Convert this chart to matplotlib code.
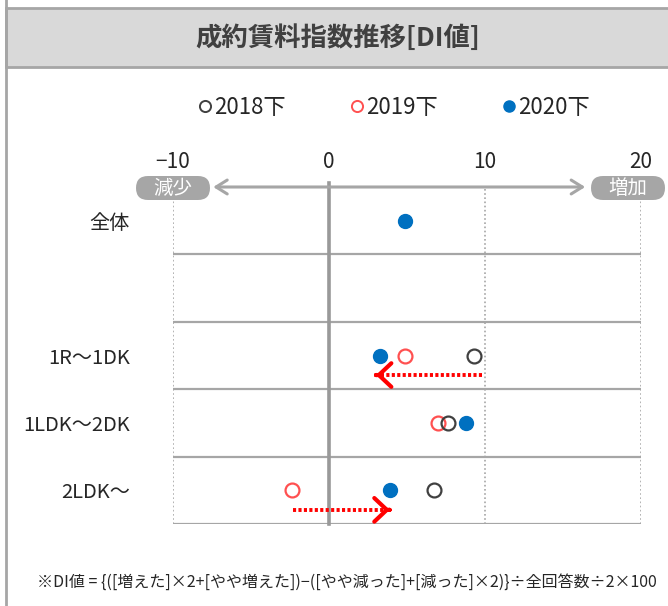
import matplotlib.pyplot as plt
import numpy as np
from matplotlib.patches import FancyBboxPatch, Rectangle
from matplotlib.lines import Line2D

plt.rcParams['font.family'] = ['Noto Sans CJK JP', 'DejaVu Sans']

categories = ['全体', '', '1R～1DK', '1LDK～2DK', '2LDK～']
di_2018 = [np.nan, np.nan, 9.3, 7.6, 6.7]
di_2019 = [np.nan, np.nan, 4.9, 7.0, -2.4]
di_2020 = [4.9, np.nan, 3.3, 8.8, 3.9]
series_labels = ['2018下', '2019下', '2020下']
x_ticks = [-10, 0, 10, 20]
# 前回からの変化を示す矢印: (行, 始点, 終点)
shifts = [('1R～1DK', 9.8, 3.0), ('2LDK～', -2.3, 3.9)]

note = '※DI値 = {([増えた]×2+[やや増えた])−([やや減った]+[減った]×2)}÷全回答数÷2×100'

W, H = 668, 606
GRAY = '#a6a6a6'

fig = plt.figure(figsize=(W / 100, H / 100), dpi=100)


def fx(x):
    return x / W


def fy(y):
    return 1 - y / H


# 見出し帯と左の枠線
fig.add_artist(Rectangle((fx(6), fy(67)), 1.0, (67 - 8) / H, transform=fig.transFigure,
                         fc='#d9d9d9', ec=GRAY, lw=2))
fig.add_artist(Line2D([fx(6), fx(6)], [0, 1], transform=fig.transFigure, color=GRAY, lw=2))
fig.text(fx(338), fy(38), '成約賃料指数推移[DI値]', ha='center', va='center',
         fontsize=19, fontweight='bold', color='#404040')

ax = fig.add_axes([fx(173), fy(524), (641 - 173) / W, (524 - 187) / H])
rows = np.arange(len(categories)) + 0.5
ax.set_xlim(-10, 20)
ax.set_ylim(len(categories), 0)
for s in ax.spines.values():
    s.set_visible(False)

ax.xaxis.tick_top()
ax.set_xticks(x_ticks)
ax.set_xticklabels([str(t).replace('-', '−') for t in x_ticks], fontsize=15, color='#262626')
ax.tick_params(axis='x', length=0, pad=10)
ax.set_yticks(rows)
ax.set_yticklabels(categories, fontsize=14.5, color='#262626')
ax.tick_params(axis='y', length=0, pad=31)

# 罫線
for y in range(1, len(categories) + 1):
    ax.axhline(y, color=GRAY, lw=1.6, zorder=1)
for t in x_ticks:
    if t != 0:
        ax.axvline(t, color=GRAY, lw=1.2, ls=(0, (1, 1.5)), zorder=1)
ax.plot([0, 0], [-0.06, len(categories)], color='#999999', lw=2.6, clip_on=False, zorder=2)

# 減少 ↔ 増加
ax.annotate('', xy=(-7.6, 0), xytext=(16.6, 0), xycoords='data',
            arrowprops=dict(arrowstyle='<->,head_length=0.8,head_width=0.5', color=GRAY, lw=2.2),
            annotation_clip=False, zorder=3)
for label, cx in [('減少', 173), ('増加', 628)]:
    fig.add_artist(FancyBboxPatch(((cx - 37) / 100, (H - 200) / 100), 0.74, 0.24,
                                  boxstyle='round,pad=0,rounding_size=0.12',
                                  transform=fig.dpi_scale_trans, fc=GRAY, ec='none', zorder=5))
    fig.text(fx(cx), fy(188), label, ha='center', va='center', fontsize=14,
             color='white', zorder=6)

# データ点
m = 10
ax.plot(di_2019, rows, 'o', ms=m, mfc='white', mec='#ff5050', mew=1.6, zorder=4)
ax.plot(di_2018, rows, 'o', ms=m, mfc='none', mec='#404040', mew=1.6, zorder=4)
ax.plot(di_2020, rows, 'o', ms=m, mfc='#0070c0', mec='#0070c0', zorder=4)

# 変化の矢印
for cat, x0, x1 in shifts:
    y = rows[categories.index(cat)] + 0.29
    ax.plot([x0, x1], [y, y], color='red', lw=2.8, ls=(0, (0.8, 0.6)), zorder=3)
    d = 0.2 if x1 > x0 else -0.2
    ax.annotate('', xy=(x1, y), xytext=(x1 - d, y),
                arrowprops=dict(arrowstyle='->,head_length=0.9,head_width=0.85',
                                color='red', lw=3), zorder=3)

# 凡例
handles = [
    Line2D([], [], marker='o', ls='none', ms=8, mfc='none', mec='#404040', mew=1.4),
    Line2D([], [], marker='o', ls='none', ms=8, mfc='none', mec='#ff5050', mew=1.4),
    Line2D([], [], marker='o', ls='none', ms=8, mfc='#0070c0', mec='#0070c0'),
]
fig.legend(handles, series_labels, loc='center', bbox_to_anchor=(fx(393), fy(107)),
           ncol=3, frameon=False, fontsize=16, handletextpad=0.0, columnspacing=2.8,
           handlelength=0.8, labelcolor='#262626')

fig.text(fx(37), fy(582), note, ha='left', va='center', fontsize=11.5, color='#262626')

fig.savefig('out.png', dpi=100)
